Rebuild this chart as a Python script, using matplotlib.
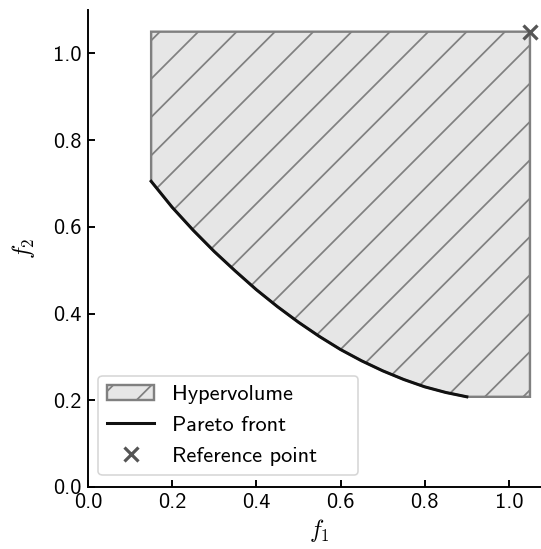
import numpy as np
import matplotlib
matplotlib.use("Agg")
import matplotlib.pyplot as plt

plt.rcParams['font.family'] = ['cmss10', 'DejaVu Sans']
plt.rcParams['mathtext.fontset'] = 'cm'
plt.rcParams['axes.unicode_minus'] = False
plt.rcParams['hatch.linewidth'] = 1.1
plt.rcParams['hatch.color'] = '#808080'

# pareto front
f1 = [0.15, 0.20, 0.25, 0.30, 0.35, 0.40, 0.45, 0.50,
      0.55, 0.60, 0.65, 0.70, 0.75, 0.80, 0.85, 0.90]
f2 = [0.705, 0.645, 0.592, 0.543, 0.498, 0.455, 0.416, 0.380,
      0.347, 0.317, 0.291, 0.268, 0.248, 0.231, 0.218, 0.208]

ref_point = [1.05, 1.05]
xticks = [0.0, 0.2, 0.4, 0.6, 0.8, 1.0]
yticks = [0.0, 0.2, 0.4, 0.6, 0.8, 1.0]

dpi = 115
fig = plt.figure(figsize=(541 / dpi, 549 / dpi), dpi=dpi)
ax = fig.add_axes([88 / 541, 62 / 549, 463 / 541, 477 / 549])

# hypervolume region: front + box up to the reference point
px = list(f1) + [ref_point[0], ref_point[0], f1[0]]
py = list(f2) + [f2[-1], ref_point[1], ref_point[1]]
ax.fill(px, py, facecolor='#e6e6e6', edgecolor='#808080', hatch='/',
        linewidth=1.5, label='Hypervolume')

ax.plot(f1, f2, color='#111111', linewidth=1.9, label='Pareto front')
ax.plot(ref_point[0], ref_point[1], 'x', color='#555555', markersize=9,
        markeredgewidth=2.0, linestyle='none', label='Reference point',
        clip_on=False)

ax.set_xlim(0, 1.1)
ax.set_ylim(0, 1.1)
ax.set_xticks(xticks)
ax.set_yticks(yticks)
ax.set_xticklabels(['%.1f' % t for t in xticks])
ax.set_yticklabels(['%.1f' % t for t in yticks])
ax.tick_params(direction='in', length=4.2, width=1.2, labelsize=14, pad=4)
for s in ['left', 'bottom']:
    ax.spines[s].set_linewidth(1.2)
ax.spines['top'].set_visible(False)
ax.spines['right'].set_visible(False)

ax.set_xlabel('$f_1$', fontsize=15, labelpad=3)
ax.set_ylabel('$f_2$', fontsize=15, labelpad=10)

ax.legend(loc='lower left', fontsize=14, fancybox=True, framealpha=0.8,
          handlelength=2.1, borderaxespad=0, mode='expand',
          bbox_to_anchor=(0.022, 0.025, 0.562, 0.2))

fig.savefig('out.png', dpi=dpi)
